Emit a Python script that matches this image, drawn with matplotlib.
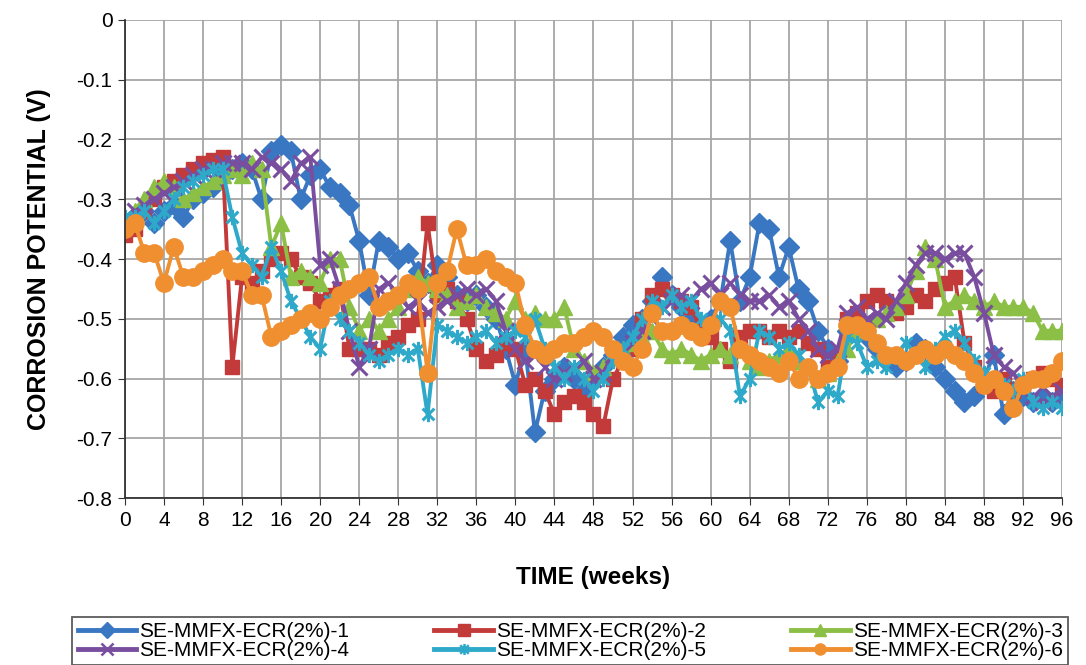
import matplotlib
matplotlib.use("Agg")
import matplotlib.pyplot as plt
from matplotlib.path import Path
import numpy as np

weeks = list(range(0, 97))

s1 = [-0.35, -0.33, -0.32, -0.34, -0.32, -0.31, -0.33, -0.30, -0.29, -0.28,
      -0.26, -0.25, -0.24, -0.25, -0.30, -0.22, -0.21, -0.22, -0.30, -0.26,
      -0.25, -0.28, -0.29, -0.31, -0.37, -0.46, -0.37, -0.38, -0.40, -0.39,
      -0.42, -0.44, -0.41, -0.43, -0.46, -0.47, -0.46, -0.48, -0.50, -0.55,
      -0.61, -0.55, -0.69, -0.62, -0.60, -0.58, -0.60, -0.62, -0.60, -0.58,
      -0.56, -0.53, -0.51, -0.50, -0.47, -0.43, -0.46, -0.48, -0.50, -0.52,
      -0.50, -0.47, -0.37, -0.47, -0.43, -0.34, -0.35, -0.43, -0.38, -0.45,
      -0.47, -0.52, -0.55, -0.57, -0.52, -0.52, -0.53, -0.55, -0.57, -0.58,
      -0.57, -0.54, -0.55, -0.58, -0.60, -0.62, -0.64, -0.63, -0.60, -0.56,
      -0.66, -0.62, -0.63, -0.64, -0.63, -0.64, -0.63]

s2 = [-0.36, -0.35, -0.32, -0.30, -0.28, -0.27, -0.26, -0.25, -0.24, -0.235,
      -0.23, -0.58, -0.43, -0.44, -0.42, -0.40, -0.39, -0.40, -0.43, -0.44,
      -0.47, -0.46, -0.45, -0.55, -0.55, -0.55, -0.56, -0.54, -0.53, -0.51,
      -0.50, -0.34, -0.46, -0.45, -0.47, -0.50, -0.55, -0.57, -0.56, -0.54,
      -0.55, -0.61, -0.60, -0.62, -0.66, -0.64, -0.63, -0.64, -0.66, -0.68,
      -0.60, -0.57, -0.55, -0.50, -0.46, -0.45, -0.46, -0.47, -0.48, -0.52,
      -0.53, -0.55, -0.57, -0.53, -0.52, -0.52, -0.53, -0.52, -0.53, -0.52,
      -0.54, -0.55, -0.58, -0.57, -0.50, -0.49, -0.47, -0.46, -0.47, -0.49,
      -0.48, -0.46, -0.47, -0.45, -0.44, -0.43, -0.54, -0.58, -0.61, -0.62,
      -0.60, -0.62, -0.61, -0.60, -0.59, -0.60, -0.61]

s3 = [-0.34, -0.32, -0.30, -0.28, -0.27, -0.28, -0.30, -0.29, -0.28, -0.27,
      -0.26, -0.25, -0.26, -0.24, -0.25, -0.38, -0.34, -0.43, -0.42, -0.43,
      -0.44, -0.40, -0.40, -0.48, -0.52, -0.50, -0.52, -0.50, -0.48, -0.45,
      -0.43, -0.44, -0.45, -0.46, -0.48, -0.47, -0.46, -0.48, -0.49, -0.50,
      -0.47, -0.50, -0.49, -0.50, -0.50, -0.48, -0.55, -0.57, -0.59, -0.58,
      -0.56, -0.55, -0.54, -0.53, -0.52, -0.55, -0.56, -0.55, -0.56, -0.57,
      -0.56, -0.55, -0.56, -0.55, -0.57, -0.58, -0.57, -0.56, -0.55, -0.57,
      -0.58, -0.60, -0.59, -0.57, -0.55, -0.52, -0.51, -0.50, -0.49, -0.48,
      -0.46, -0.42, -0.38, -0.40, -0.48, -0.47, -0.46, -0.47, -0.48, -0.47,
      -0.48, -0.48, -0.48, -0.49, -0.52, -0.52, -0.52]

s4 = [-0.33, -0.32, -0.31, -0.30, -0.29, -0.28, -0.27, -0.26, -0.25, -0.25,
      -0.24, -0.24, -0.24, -0.25, -0.23, -0.24, -0.25, -0.27, -0.24, -0.23,
      -0.41, -0.40, -0.45, -0.52, -0.58, -0.55, -0.45, -0.44, -0.46, -0.48,
      -0.47, -0.49, -0.48, -0.47, -0.46, -0.45, -0.46, -0.45, -0.47, -0.52,
      -0.55, -0.57, -0.56, -0.58, -0.60, -0.59, -0.58, -0.57, -0.60, -0.59,
      -0.56, -0.55, -0.54, -0.52, -0.50, -0.48, -0.47, -0.46, -0.47, -0.45,
      -0.44, -0.46, -0.44, -0.46, -0.47, -0.47, -0.46, -0.48, -0.47, -0.50,
      -0.52, -0.55, -0.56, -0.55, -0.49, -0.48, -0.50, -0.49, -0.50, -0.47,
      -0.44, -0.41, -0.39, -0.39, -0.40, -0.39, -0.39, -0.43, -0.49, -0.56,
      -0.58, -0.59, -0.62, -0.63, -0.64, -0.63, -0.62]

s5 = [-0.33, -0.33, -0.32, -0.34, -0.32, -0.30, -0.28, -0.27, -0.26, -0.25,
      -0.25, -0.33, -0.39, -0.41, -0.43, -0.38, -0.42, -0.47, -0.50, -0.53,
      -0.55, -0.47, -0.50, -0.52, -0.54, -0.56, -0.57, -0.56, -0.55, -0.56,
      -0.55, -0.66, -0.51, -0.52, -0.53, -0.54, -0.53, -0.52, -0.54, -0.53,
      -0.52, -0.53, -0.50, -0.55, -0.58, -0.60, -0.58, -0.60, -0.62, -0.60,
      -0.57, -0.55, -0.53, -0.50, -0.47, -0.48, -0.46, -0.48, -0.47, -0.50,
      -0.51, -0.50, -0.52, -0.63, -0.60, -0.52, -0.53, -0.55, -0.54, -0.56,
      -0.58, -0.64, -0.62, -0.63, -0.53, -0.54, -0.58, -0.57, -0.58, -0.56,
      -0.54, -0.56, -0.58, -0.55, -0.53, -0.52, -0.54, -0.57, -0.59, -0.60,
      -0.61, -0.62, -0.60, -0.64, -0.65, -0.64, -0.65]

s6 = [-0.35, -0.34, -0.39, -0.39, -0.44, -0.38, -0.43, -0.43, -0.42, -0.41,
      -0.40, -0.42, -0.42, -0.46, -0.46, -0.53, -0.52, -0.51, -0.50, -0.49,
      -0.50, -0.48, -0.46, -0.45, -0.44, -0.43, -0.48, -0.47, -0.46, -0.44,
      -0.45, -0.59, -0.44, -0.42, -0.35, -0.41, -0.41, -0.40, -0.42, -0.43,
      -0.44, -0.51, -0.55, -0.56, -0.55, -0.54, -0.54, -0.53, -0.52, -0.53,
      -0.55, -0.57, -0.58, -0.55, -0.49, -0.52, -0.52, -0.51, -0.52, -0.53,
      -0.51, -0.47, -0.48, -0.55, -0.56, -0.57, -0.58, -0.59, -0.57, -0.60,
      -0.58, -0.60, -0.59, -0.58, -0.51, -0.51, -0.52, -0.54, -0.56, -0.56,
      -0.57, -0.56, -0.55, -0.56, -0.55, -0.56, -0.57, -0.59, -0.61, -0.60,
      -0.62, -0.65, -0.61, -0.60, -0.60, -0.59, -0.57]

labels = ["SE-MMFX-ECR(2%)-1", "SE-MMFX-ECR(2%)-2", "SE-MMFX-ECR(2%)-3",
          "SE-MMFX-ECR(2%)-4", "SE-MMFX-ECR(2%)-5", "SE-MMFX-ECR(2%)-6"]
x_ticks = list(range(0, 97, 4))
y_ticks = [0, -0.1, -0.2, -0.3, -0.4, -0.5, -0.6, -0.7, -0.8]
y_tick_labels = ["0", "-0.1", "-0.2", "-0.3", "-0.4", "-0.5", "-0.6", "-0.7", "-0.8"]

colors = ["#3A77C2", "#C23B3A", "#8CBF45", "#7A4E9F", "#2EA9C9", "#F08F30"]

# asterisk marker: X plus vertical stroke
ast = Path([(-1, -1), (1, 1), (-1, 1), (1, -1), (0, -1.3), (0, 1.3)],
           [Path.MOVETO, Path.LINETO, Path.MOVETO, Path.LINETO, Path.MOVETO, Path.LINETO])
markers = ["D", "s", "^", "x", ast, "o"]
msizes = [10, 10, 11, 11, 11, 12.5]

plt.rcParams['font.family'] = ['Liberation Sans', 'DejaVu Sans']
fig = plt.figure(figsize=(10.86, 6.65), dpi=100)
ax = fig.add_axes([0.115, 0.251, 0.863, 0.719])

series = [s1, s2, s3, s4, s5, s6]
for s, c, m, ms, lab in zip(series, colors, markers, msizes, labels):
    mew = 2.2 if (m == "x" or m is ast) else 1.0
    ax.plot(weeks, s, color=c, marker=m, markersize=ms, linewidth=2.8,
            markeredgecolor=c, markerfacecolor=c, markeredgewidth=mew,
            label=lab)

ax.set_xlim(0, 96)
ax.set_ylim(-0.8, 0)
ax.set_xticks(x_ticks)
ax.set_yticks(y_ticks)
ax.set_yticklabels(y_tick_labels)
ax.tick_params(labelsize=15, length=5, direction='out', color='#333333', pad=4)
ax.grid(True, color='#A6A6A6', linewidth=1.3)
ax.set_axisbelow(True)
for sp in ['top', 'right']:
    ax.spines[sp].set_visible(False)
for sp in ['left', 'bottom']:
    ax.spines[sp].set_color('#333333')
    ax.spines[sp].set_linewidth(1.3)

ax.set_xlabel("TIME (weeks)", fontsize=17.5, fontweight='bold', labelpad=26)
ax.set_ylabel("CORROSION POTENTIAL (V)", fontsize=18, fontweight='bold', labelpad=18)

order = [0, 3, 1, 4, 2, 5]
leg_handles = []
for i in order:
    mew = 1.8 if (markers[i] == "x" or markers[i] is ast) else 1.0
    lh, = ax.plot([], [], color=colors[i], marker=markers[i], markersize=8,
                  linewidth=3.5, markeredgecolor=colors[i], markerfacecolor=colors[i],
                  markeredgewidth=mew)
    leg_handles.append(lh)
leg = fig.legend(leg_handles, [labels[i] for i in order], ncol=3,
                 loc='lower center', bbox_to_anchor=(0.525, 0.0),
                 fontsize=15, frameon=True, fancybox=False,
                 edgecolor='#333333', handlelength=2.8, handletextpad=0.15,
                 columnspacing=4.1, borderaxespad=0.0, labelspacing=0.0,
                 borderpad=0.25)
leg.get_frame().set_linewidth(1.3)

fig.savefig("out.png", dpi=100)
